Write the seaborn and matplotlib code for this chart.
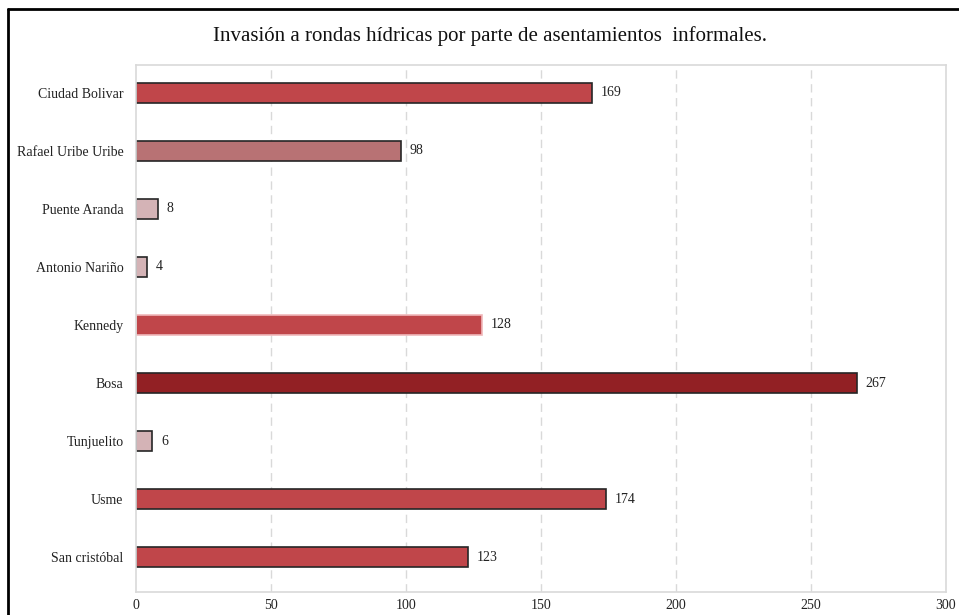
import matplotlib
matplotlib.use("Agg")
import matplotlib.pyplot as plt
import seaborn as sns
import pandas as pd
from matplotlib.lines import Line2D

categories = ["Ciudad Bolivar", "Rafael Uribe Uribe", "Puente Aranda", "Antonio Nariño",
              "Kennedy", "Bosa", "Tunjuelito", "Usme", "San cristóbal"]
values = [169, 98, 8, 4, 128, 267, 6, 174, 123]
colors = ["#C0464A", "#B87274", "#D4B3B6", "#D4B3B6", "#C0464A", "#922024",
          "#D4B3B6", "#C0464A", "#C0464A"]
edges = ["#262626", "#262626", "#262626", "#262626", "#F0B8BA", "#262626",
         "#262626", "#262626", "#262626"]
xticks = [0, 50, 100, 150, 200, 250, 300]
title = "Invasión a rondas hídricas por parte de asentamientos  informales."

sns.set_theme(style="white")
plt.rcParams['font.family'] = ['Liberation Serif', 'DejaVu Serif']

df = pd.DataFrame({"cat": categories, "val": values})

fig = plt.figure(figsize=(9.59, 6.15), dpi=100)
ax = fig.add_axes([0.1418, 0.0374, 0.8446, 0.857])

sns.barplot(data=df, y="cat", x="val", hue="cat", palette=colors, legend=False,
            width=0.35, orient="h", ax=ax, saturation=1)
for patch, ec in zip(ax.patches, edges):
    patch.set_edgecolor(ec)
    patch.set_linewidth(1.2)

for i, v in enumerate(values):
    ax.text(v + 3.3, i, str(v), va="center", ha="left", fontsize=10, color="#222222")

ax.set_xlim(0, 300)
ax.set_ylim(8.6, -0.48)
ax.set_xticks(xticks)
ax.set_xticklabels([str(t) for t in xticks], fontsize=10, color="#222222")
ax.tick_params(axis="y", labelsize=10, labelcolor="#222222", length=0, pad=9)
ax.tick_params(axis="x", length=0, pad=5)
ax.set_xlabel("")
ax.set_ylabel("")
for x in xticks[1:-1]:
    ax.axvline(x, color="#D9D9D9", linestyle=(0, (6, 4)), linewidth=1.0, zorder=0)
for s in ax.spines.values():
    s.set_color("#D9D9D9")
    s.set_linewidth(1.2)

fig.text(0.511, 0.942, title, ha="center", va="center", fontsize=15, color="#111111")

# outer frame lines (left and top)
fig.add_artist(Line2D([0.0083, 0.0083], [0, 0.985], transform=fig.transFigure, color="black", linewidth=2))
fig.add_artist(Line2D([0.0083, 1.0], [0.985, 0.985], transform=fig.transFigure, color="black", linewidth=2))

fig.savefig("out.png", dpi=100)
